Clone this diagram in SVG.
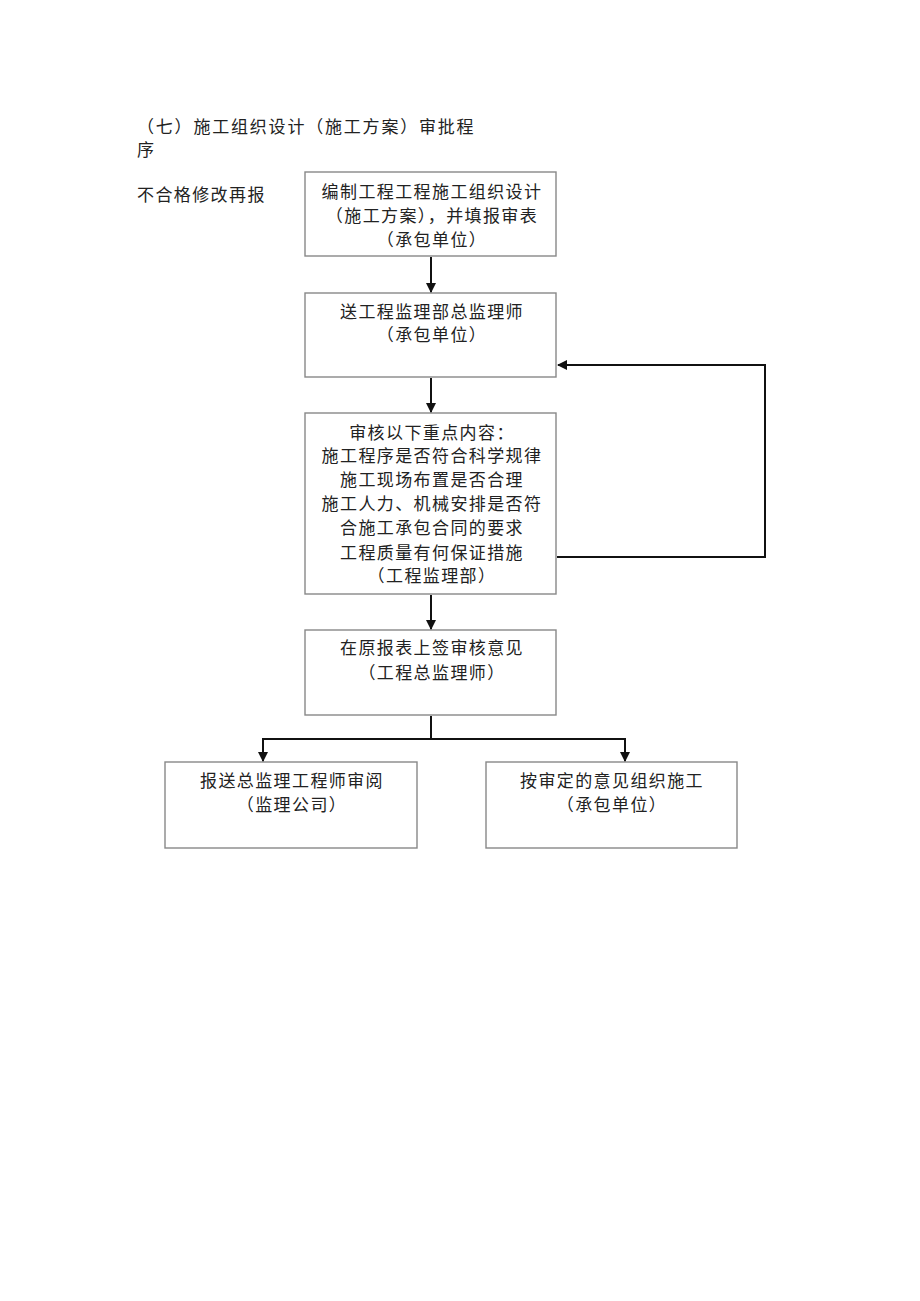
<svg xmlns="http://www.w3.org/2000/svg" width="920" height="1301" viewBox="0 0 920 1301">
<style>
.t{font-family:"Noto Sans CJK SC","Noto Sans",sans-serif;font-size:17px;letter-spacing:1.4px;fill:#222}
.h{letter-spacing:1.8px}
.c{text-anchor:middle}
.box{fill:#fff;stroke:#888;stroke-width:1.4}
.ln{fill:none;stroke:#111;stroke-width:2}
</style>
<defs>
<marker id="ah" viewBox="0 0 10 10" refX="9" refY="5" markerWidth="5" markerHeight="5" orient="auto" markerUnits="strokeWidth">
<path d="M0,0 L10,5 L0,10 z" fill="#111"/>
</marker>
</defs>
<rect width="920" height="1301" fill="#fff"/>
<g id="title">
<text class="t h" x="137" y="133">（七）施工组织设计（施工方案）审批程</text>
<text class="t h" x="137" y="156">序</text>
</g>
<g id="note">
<text class="t" x="137" y="201">不合格修改再报</text>
</g>
<g id="n1">
<rect class="box" x="305" y="172" width="251" height="84"/>
<text class="t c" x="432" y="198">编制工程工程施工组织设计</text>
<text class="t c" x="432" y="222">（施工方案），并填报审表</text>
<text class="t c" x="432" y="246">（承包单位）</text>
</g>
<g id="n2">
<rect class="box" x="305" y="293" width="251" height="84"/>
<text class="t c" x="432" y="318">送工程监理部总监理师</text>
<text class="t c" x="432" y="341">（承包单位）</text>
</g>
<g id="n3">
<rect class="box" x="305" y="413" width="251" height="181"/>
<text class="t c" x="432" y="439">审核以下重点内容：</text>
<text class="t c" x="432" y="462">施工程序是否符合科学规律</text>
<text class="t c" x="432" y="486">施工现场布置是否合理</text>
<text class="t c" x="432" y="510">施工人力、机械安排是否符</text>
<text class="t c" x="432" y="534">合施工承包合同的要求</text>
<text class="t c" x="432" y="559">工程质量有何保证措施</text>
<text class="t c" x="432" y="582">（工程监理部）</text>
</g>
<g id="n4">
<rect class="box" x="305" y="630" width="251" height="85"/>
<text class="t c" x="432" y="654">在原报表上签审核意见</text>
<text class="t c" x="432" y="679">（工程总监理师）</text>
</g>
<g id="n5">
<rect class="box" x="165" y="762" width="252" height="86"/>
<text class="t c" x="292" y="787">报送总监理工程师审阅</text>
<text class="t c" x="292" y="811">（监理公司）</text>
</g>
<g id="n6">
<rect class="box" x="486" y="762" width="251" height="86"/>
<text class="t c" x="612" y="787">按审定的意见组织施工</text>
<text class="t c" x="612" y="811">（承包单位）</text>
</g>
<g id="connectors">
<line class="ln" x1="431" y1="257" x2="431" y2="292" marker-end="url(#ah)"/>
<line class="ln" x1="431" y1="378" x2="431" y2="412" marker-end="url(#ah)"/>
<line class="ln" x1="431" y1="595" x2="431" y2="629" marker-end="url(#ah)"/>
<polyline class="ln" points="557,557 765,557 765,365 558,365" marker-end="url(#ah)"/>
<line class="ln" x1="431" y1="716" x2="431" y2="739"/>
<polyline class="ln" points="263,739 625,739"/>
<line class="ln" x1="263" y1="738" x2="263" y2="761" marker-end="url(#ah)"/>
<line class="ln" x1="625" y1="738" x2="625" y2="761" marker-end="url(#ah)"/>
</g>
</svg>
